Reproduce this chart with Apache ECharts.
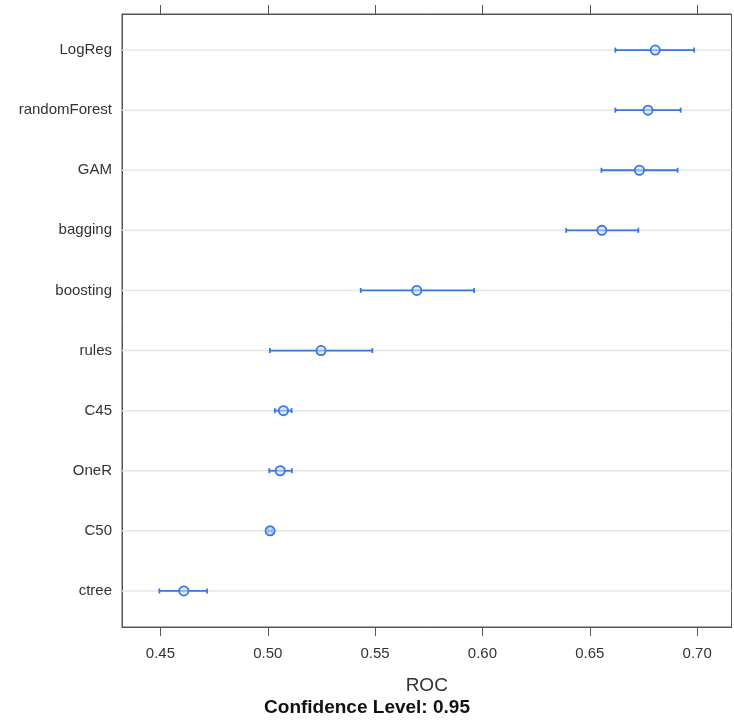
<!DOCTYPE html>
<html>
<head>
<meta charset="utf-8">
<script src="https://cdn.jsdelivr.net/npm/echarts@6/dist/echarts.min.js"></script>
<style>
html,body{margin:0;padding:0;background:#fff;}
#chart{width:734px;height:723px;}
</style>
</head>
<body>
<div id="chart"></div>
<script>
const models = ['LogReg','randomForest','GAM','bagging','boosting','rules','C45','OneR','C50','ctree'];
const rocMean  = [0.6805,0.6771,0.6731,0.6556,0.5694,0.5248,0.5073,0.5058,0.5011,0.4609];
const rocLower = [0.6619,0.6619,0.6554,0.6390,0.5433,0.5010,0.5033,0.5007,0.5002,0.4495];
const rocUpper = [0.6986,0.6923,0.6909,0.6726,0.5961,0.5487,0.5111,0.5112,0.5020,0.4717];
const xTicks = [0.45,0.50,0.55,0.60,0.65,0.70];
const rowPositions = models.map((m,i)=>models.length - i);

const data = models.map((m,i)=>[rocLower[i], rocUpper[i], rocMean[i], rowPositions[i]]);

const blue = '#3a76de';
const axisColor = '#555';
const font = '"Liberation Sans", Arial, Helvetica, sans-serif';

const chart = echarts.init(document.getElementById('chart'), null, {renderer:'canvas'});
chart.setOption({
  animation:false,
  backgroundColor:'#fff',
  grid:{left:122, right:2.5, top:14, bottom:96, show:true, borderColor:axisColor, borderWidth:1, containLabel:false},
  xAxis:[{
    type:'value', position:'bottom', min:0.4321, max:0.716,
    axisLine:{show:true, lineStyle:{color:axisColor, width:1}},
    axisTick:{show:true, customValues:xTicks, length:9, lineStyle:{color:axisColor}},
    axisLabel:{customValues:xTicks, formatter:v=>v.toFixed(2), color:'#333', fontSize:15, fontFamily:font, margin:19},
    splitLine:{show:false},
    name:'ROC', nameLocation:'middle', nameGap:49,
    nameTextStyle:{color:'#333', fontSize:19, fontFamily:font}
  },{
    type:'value', position:'top', min:0.4321, max:0.716,
    axisLine:{show:true, lineStyle:{color:axisColor, width:1}},
    axisTick:{show:true, customValues:xTicks, length:9, lineStyle:{color:axisColor}},
    axisLabel:{show:false},
    splitLine:{show:false}
  }],
  yAxis:{
    type:'value', min:0.4, max:10.6,
    axisLine:{show:true, lineStyle:{color:axisColor, width:1}},
    axisTick:{show:false},
    axisLabel:{customValues:rowPositions, formatter:v=>models[models.length - Math.round(v)], color:'#333', fontSize:15, fontFamily:font, margin:10},
    splitLine:{show:false}
  },
  graphic:[{
    type:'text', left:'center', top:698,
    style:{text:'Confidence Level: 0.95', x:0, y:0, font:'bold 19px ' + font, fill:'#111', textAlign:'center'}
  }],
  series:[{
    type:'custom',
    xAxisIndex:0,
    data:data,
    encode:{x:[0,1,2], y:3},
    renderItem:function(params, api){
      const y = api.value(3);
      const pL = api.coord([api.value(0), y]);
      const pU = api.coord([api.value(1), y]);
      const pM = api.coord([api.value(2), y]);
      const cs = params.coordSys;
      const cap = 2.5;
      return {
        type:'group',
        children:[
          {type:'line', shape:{x1:cs.x, y1:pM[1], x2:cs.x+cs.width, y2:pM[1]}, style:{stroke:'#e6e6e6', lineWidth:1.5}},
          {type:'line', shape:{x1:pL[0], y1:pL[1], x2:pU[0], y2:pU[1]}, style:{stroke:blue, lineWidth:1.8}},
          {type:'line', shape:{x1:pL[0], y1:pL[1]-cap, x2:pL[0], y2:pL[1]+cap}, style:{stroke:blue, lineWidth:1.8}},
          {type:'line', shape:{x1:pU[0], y1:pU[1]-cap, x2:pU[0], y2:pU[1]+cap}, style:{stroke:blue, lineWidth:1.8}},
          {type:'circle', shape:{cx:pM[0], cy:pM[1], r:4.6}, style:{fill:'rgba(200,220,250,0.6)', stroke:blue, lineWidth:1.8}}
        ]
      };
    }
  }]
});
</script>
</body>
</html>
